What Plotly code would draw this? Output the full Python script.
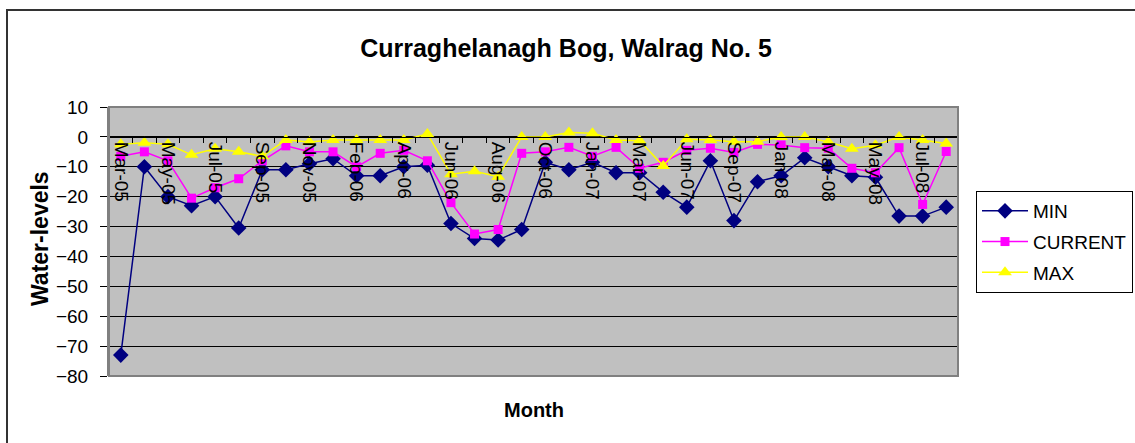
import plotly.graph_objects as go

categories = ["Mar-05", "Apr-05", "May-05", "Jun-05", "Jul-05", "Aug-05", "Sep-05", "Oct-05",
              "Nov-05", "Dec-05", "Feb-06", "Mar-06", "Apr-06", "May-06", "Jun-06", "Jul-06",
              "Aug-06", "Sep-06", "Oct-06", "Nov-06", "Jan-07", "Feb-07", "Mar-07", "Apr-07",
              "Jun-07", "Jul-07", "Sep-07", "Nov-07", "Jan 08", "Feb-08", "Mar-08", "Apr-08",
              "May-08", "Jun-08", "Jul-08", "Aug-08"]
tick_labels = ["Mar-05", "May-05", "Jul-05", "Sep-05", "Nov-05", "Feb-06", "Apr-06", "Jun-06",
               "Aug-06", "Oct-06", "Jan-07", "Mar-07", "Jun-07", "Sep-07", "Jan 08", "Mar-08",
               "May-08", "Jul-08"]
min_vals = [-73, -10, -20, -23, -20, -30.5, -11, -11, -9, -7.3, -13, -13, -10, -9.5, -29, -34,
            -34.5, -31, -8.5, -11, -8.5, -12, -12, -18.5, -23.5, -8, -28, -15, -13, -7, -10,
            -13, -13.5, -26.5, -26.5, -23.5]
current_vals = [-6.5, -5, -8, -20.5, -17, -14, -8, -3, -5, -5, -10, -5.5, -4.5, -8, -22, -32.5,
                -31, -5.5, -5, -3.5, -6.5, -3.5, -10.5, -8.5, -4.5, -3.8, -5.2, -2.5, -2.7, -3.6,
                -3.8, -10.5, -12, -3.6, -22.6, -4.9]
max_vals = [-2.5, -2, -2.5, -6, -4, -5, -6.5, -1, -1.7, -1, -1, -1, -1, 1, -12.5, -11.5, -13.3,
            0, 0, 1.5, 1.2, -1, -1.3, -9.7, -0.8, -1, -1.6, -1.6, 0, 0, -1.7, -4, -2.8, 0, -1,
            -2.2]

FONT = "Liberation Sans, Arial, sans-serif"

fig = go.Figure()
series = [
    ("MIN", min_vals, "#000080", "diamond", 12),
    ("CURRENT", current_vals, "#FF00FF", "square", 9),
    ("MAX", max_vals, "#FFFF00", "triangle-up", 12),
]
for name, vals, color, sym, size in series:
    fig.add_trace(go.Scatter(
        x=categories, y=vals, name=name, mode="lines+markers", legendgroup=name,
        line=dict(color=color, width=1.5),
        marker=dict(symbol=sym, size=size, color=color, line=dict(width=0)),
    ))

ticktext = []
for i, c in enumerate(categories):
    ticktext.append(c if c in tick_labels and i % 2 == 0 else "")

ymin, ymax = -80, 10
W, H = 1135, 443
L, R, T, B = 109, 958, 107, 376

fig.update_layout(
    width=W, height=H,
    margin=dict(l=L, r=W - R, t=T, b=H - B, autoexpand=False),
    paper_bgcolor="white", plot_bgcolor="#C0C0C0",
    font=dict(family=FONT, color="black", size=19),
    title=dict(text="<b>Curraghelanagh Bog, Walrag No. 5</b>", x=566 / W, xanchor="center",
               xref="container", y=1 - 48 / H, yanchor="middle", yref="container",
               font=dict(size=25, family=FONT)),
    showlegend=True,
    legend=dict(x=(976 - L) / (R - L), xanchor="left", y=(B - 191) / (B - T), yanchor="top",
                bgcolor="white", bordercolor="black", borderwidth=1,
                font=dict(size=19, family=FONT), tracegroupgap=3, itemwidth=46),
    xaxis=dict(type="category", categoryorder="array", categoryarray=categories,
               range=[-0.5, len(categories) - 0.5],
               anchor="free", position=(0 - ymin) / (ymax - ymin),
               tickmode="array", tickvals=categories, ticktext=ticktext, tickson="boundaries",
               ticks="outside", ticklen=5, tickcolor="black", tickwidth=1,
               tickangle=90, tickfont=dict(size=19, family=FONT),
               showline=True, linecolor="black", linewidth=1, showgrid=False, zeroline=False),
    yaxis=dict(range=[ymin, ymax], dtick=10, tick0=0, showgrid=True, gridcolor="black",
               gridwidth=1, zeroline=False, ticks="outside", ticklen=7, tickcolor="black",
               ticklabelstandoff=8, tickfont=dict(size=19, family=FONT),
               showline=True, linecolor="#808080", linewidth=2),
    annotations=[
        dict(text="<b>Water-levels</b>", xref="paper", yref="paper",
             x=(40 - L) / (R - L), y=(B - 239) / (B - T), textangle=-90,
             showarrow=False, font=dict(size=23, family=FONT), xanchor="center", yanchor="middle"),
        dict(text="<b>Month</b>", xref="paper", yref="paper",
             x=(534 - L) / (R - L), y=(B - 410) / (B - T),
             showarrow=False, font=dict(size=20, family=FONT), xanchor="center", yanchor="middle"),
    ],
    shapes=[
        dict(type="rect", xref="paper", yref="paper", x0=0, x1=1, y0=0, y1=1,
             line=dict(color="#808080", width=2), fillcolor="rgba(0,0,0,0)", layer="above"),
        dict(type="rect", xref="paper", yref="paper",
             x0=(7 - L) / (R - L), x1=(1150 - L) / (R - L),
             y0=(B - 460) / (B - T), y1=(B - 10) / (B - T),
             line=dict(color="#333333", width=2), fillcolor="rgba(0,0,0,0)", layer="below"),
    ],
)

fig.write_html("out.html", config={"displayModeBar": False},
               post_script="document.body.style.margin='0';document.body.style.overflow='hidden';")
